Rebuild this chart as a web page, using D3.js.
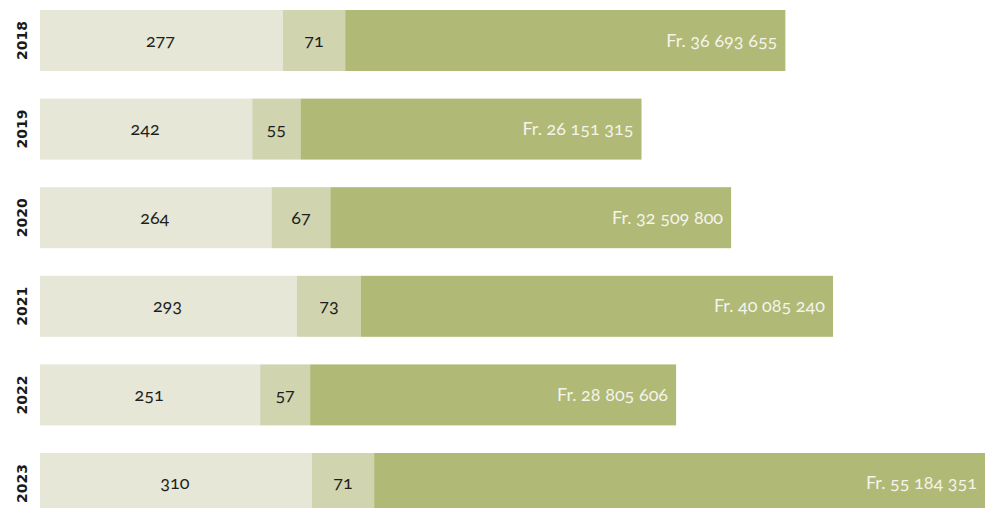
<!DOCTYPE html>
<html><head><meta charset="utf-8">
<script src="https://cdn.jsdelivr.net/npm/d3@7"></script>
<style>
body{margin:0;background:#fff;}
svg{display:block;}
.num{font-family:Lato,"Open Sans",sans-serif;font-variant-numeric:oldstyle-nums;font-feature-settings:"onum" 1;font-size:18px;}
.yr{font-family:"DejaVu Sans",Verdana,sans-serif;font-weight:bold;font-size:14px;fill:#1a1a1a;}
</style></head>
<body>
<script>
const years = ["2018","2019","2020","2021","2022","2023"];
const countA = [277, 242, 264, 293, 251, 310];
const countB = [71, 55, 67, 73, 57, 71];
const amounts = [36693655, 26151315, 32509800, 40085240, 28805606, 55184351];

const W = 985, H = 508;
const colors = ["#e6e7d6", "#d0d5b0", "#b1b977"];

const svg = d3.select("body").append("svg").attr("width", W).attr("height", H);

const y = d3.scaleBand().domain(years).range([10, 514]).paddingInner(0.3115).paddingOuter(0);
const x = d3.scaleLinear().domain([0, 400]).range([40, 40 + 350.8]);
const wAmt = d3.scaleLinear().domain([0, 40000000]).range([95.2, 95.2 + 376.04]);

const fmtFr2 = v => "Fr. " + String(v).replace(/\B(?=(\d{3})+(?!\d))/g, " ");

const rows = years.map((yr, i) => ({yr, a: countA[i], b: countB[i], amt: amounts[i]}));

const g = svg.selectAll("g.row").data(rows).enter().append("g").attr("class", "row");

g.append("rect").attr("x", x(0)).attr("y", d => y(d.yr))
  .attr("width", d => x(d.a) - x(0)).attr("height", y.bandwidth()).attr("fill", colors[0]);
g.append("rect").attr("x", d => x(d.a)).attr("y", d => y(d.yr))
  .attr("width", d => x(d.a + d.b) - x(d.a)).attr("height", y.bandwidth()).attr("fill", colors[1]);
g.append("rect").attr("x", d => x(d.a + d.b)).attr("y", d => y(d.yr))
  .attr("width", d => wAmt(d.amt)).attr("height", y.bandwidth()).attr("fill", colors[2]);

g.append("text").attr("class", "num").attr("text-anchor", "middle")
  .attr("x", d => (x(0) + x(d.a)) / 2 - 1).attr("y", d => y(d.yr) + y.bandwidth() / 2 + 6)
  .attr("fill", "#1e1e1e").text(d => d.a);
g.append("text").attr("class", "num").attr("text-anchor", "middle")
  .attr("x", d => (x(d.a) + x(d.a + d.b)) / 2).attr("y", d => y(d.yr) + y.bandwidth() / 2 + 6)
  .attr("fill", "#1e1e1e").text(d => d.b);
g.append("text").attr("class", "num").attr("text-anchor", "end")
  .attr("x", d => Math.min(x(d.a + d.b) + wAmt(d.amt), W) - 8).attr("y", d => y(d.yr) + y.bandwidth() / 2 + 6)
  .attr("fill", "#f4f4ea").text(d => fmtFr2(d.amt));

g.append("text").attr("class", "yr").attr("text-anchor", "middle")
  .attr("transform", d => `translate(27,${y(d.yr) + Math.min(y.bandwidth(), H - y(d.yr)) / 2 + (d.yr === "2023" ? 3 : 0)}) rotate(-90)`)
  .text(d => d.yr);
</script>
</body></html>
